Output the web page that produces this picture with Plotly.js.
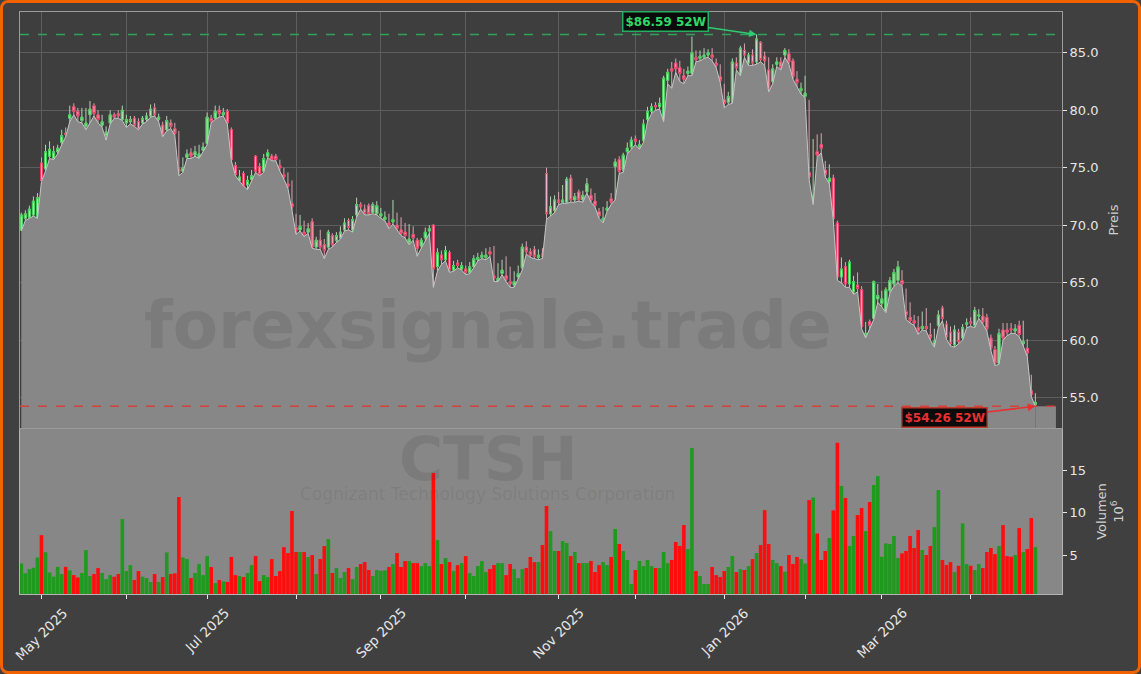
<!DOCTYPE html>
<html><head><meta charset="utf-8">
<script src="https://cdn.plot.ly/plotly-3.0.1.min.js"></script>
<style>
html,body{margin:0;padding:0;background:#404040;overflow:hidden;}
#chart{width:1141px;height:674px;}
#frame{position:fixed;left:0;top:0;width:1141px;height:674px;box-sizing:border-box;border:3px solid #f26200;border-radius:8px;pointer-events:none;}
</style></head><body>
<div id="chart"></div><div id="frame"></div>
<script>
// ---------- data ----------
const START_DATE = '2025-04-24';
const HOLIDAYS = ['2025-05-26','2025-06-19','2025-07-04','2025-09-01','2025-11-27','2025-12-25','2026-01-01','2026-01-19','2026-02-16','2026-04-03'];
const MONTHS = ['Jan','Feb','Mar','Apr','May','Jun','Jul','Aug','Sep','Oct','Nov','Dec'];

const open = [
69.6,70.6,70.7,70.9,70.6,75.4,74.9,76.0,75.8,76.4,
77.2,78.0,79.3,80.3,79.9,79.1,78.6,79.6,80.4,79.6,
78.7,77.8,78.9,79.6,79.7,79.2,78.9,79.0,79.3,79.0,
78.9,79.2,79.5,80.2,79.2,78.7,78.3,78.9,78.4,74.9,
74.7,75.9,76.3,76.1,75.9,76.5,77.1,79.3,79.3,80.0,
79.6,79.9,78.3,75.2,73.9,74.5,73.5,74.0,76.0,75.1,
74.7,76.0,76.0,76.0,75.2,74.4,73.6,71.9,69.8,69.6,
69.4,69.4,70.3,68.1,68.7,68.3,68.1,69.1,68.7,68.9,
69.6,70.4,69.6,70.9,71.8,71.4,71.7,71.1,71.0,70.8,
70.5,70.2,70.3,70.0,69.6,69.4,68.5,69.2,68.7,68.2,
68.9,69.5,70.0,66.4,67.4,67.0,67.6,66.1,66.7,66.2,
66.2,65.9,66.4,67.0,67.2,67.2,67.7,65.6,65.1,65.8,
65.6,65.1,64.8,65.5,66.3,68.1,67.7,67.9,67.2,67.5,
74.5,71.0,71.3,72.2,72.0,72.0,74.1,72.2,72.9,72.2,
72.9,72.6,72.1,71.2,70.4,71.3,72.3,75.1,75.7,74.8,
76.4,76.8,77.5,76.8,77.4,79.2,79.9,80.4,80.3,79.1,
82.6,83.6,84.1,83.7,83.0,83.2,83.2,84.6,84.5,84.6,
84.8,84.8,84.1,82.9,80.9,80.7,80.7,84.1,83.2,85.2,
84.1,84.8,84.2,85.9,84.7,83.5,82.5,84.0,84.2,84.8,
84.9,84.3,82.7,81.7,81.2,74.6,72.2,76.4,77.0,74.8,
73.8,74.1,70.2,65.5,66.4,64.9,64.2,64.8,64.4,60.4,
61.6,61.9,63.6,63.2,62.5,64.3,64.9,65.2,65.2,62.5,
62.0,61.7,61.1,61.0,61.2,60.5,59.6,61.3,62.8,61.4,
60.7,59.6,60.7,60.2,61.4,61.6,61.3,62.1,62.1,62.0,
60.2,59.2,58.0,60.9,60.9,61.0,60.8,61.3,59.7,59.3,
55.6,54.4];
const high = [
71.1,71.3,71.7,72.5,72.8,75.9,77.0,77.3,76.9,77.0,
78.3,78.5,80.4,80.6,80.2,80.2,80.2,80.8,80.6,80.0,
79.6,78.6,80.0,79.8,80.0,80.4,79.6,79.5,79.5,79.3,
79.5,79.8,80.5,80.6,79.7,79.0,79.5,79.2,78.9,78.2,
75.9,76.6,76.7,76.9,77.0,77.2,79.8,79.6,80.4,80.4,
80.2,80.1,78.5,75.5,74.8,74.7,74.3,74.8,76.1,75.4,
76.2,76.6,76.2,76.2,75.7,75.0,74.6,73.9,71.0,70.9,
70.4,70.2,70.6,69.0,69.6,68.8,69.6,69.3,69.4,69.9,
70.6,70.6,70.8,72.4,72.0,71.8,71.9,72.0,72.1,71.5,
71.2,71.0,72.2,71.1,70.7,70.2,70.1,69.9,68.9,68.9,
69.8,70.0,70.1,68.0,67.8,68.2,67.8,66.9,67.0,66.8,
66.5,66.8,67.4,67.6,67.7,68.0,68.1,68.2,66.7,67.0,
67.3,66.4,66.0,66.5,68.4,68.6,68.0,68.2,67.9,68.0,
75.0,72.5,72.6,72.9,73.5,74.2,74.4,72.8,73.1,73.0,
74.1,73.2,72.8,71.5,71.6,72.1,72.8,75.8,76.0,76.3,
77.2,77.7,77.8,77.4,79.2,80.3,80.6,80.7,81.1,83.0,
83.6,84.2,84.5,84.3,83.6,83.8,86.4,85.2,85.2,85.4,
85.3,85.4,84.5,84.0,82.3,81.6,84.5,84.6,85.6,85.8,
85.0,85.3,86.59,86.0,85.1,84.6,84.0,84.6,84.6,85.4,
85.3,84.5,83.4,82.4,83.0,80.9,77.5,77.9,78.0,75.6,
75.3,74.4,70.4,67.2,66.8,67.0,65.6,65.9,64.7,61.6,
61.8,65.2,64.9,64.3,64.6,65.5,66.2,66.9,66.1,64.5,
63.3,62.2,62.1,62.5,62.8,61.5,61.0,62.6,63.0,61.7,
61.2,61.3,61.0,61.4,61.9,62.0,62.9,62.7,62.8,62.3,
60.5,59.5,61.0,61.5,61.5,61.5,61.4,61.7,61.7,60.1,
57.0,55.4];
const low = [
69.5,70.4,70.6,70.8,70.6,73.8,74.7,75.8,75.7,76.2,
77.0,77.7,79.0,79.6,79.0,78.9,78.3,78.9,79.5,78.9,
78.5,77.4,78.8,79.3,79.3,79.1,78.5,78.8,78.6,78.3,
78.8,79.0,79.4,79.5,79.0,77.7,78.2,78.4,77.8,74.3,
74.6,75.8,75.8,76.0,75.8,76.4,77.0,78.9,79.2,79.4,
79.5,78.8,75.6,74.3,73.8,73.4,73.1,73.9,74.6,74.3,
74.6,75.9,75.6,75.6,74.7,74.0,73.2,71.3,69.2,69.5,
69.0,69.3,68.0,67.9,67.9,67.1,67.9,68.1,68.5,68.8,
69.5,69.6,69.4,70.7,71.4,70.9,70.9,71.0,70.9,70.6,
70.4,69.7,70.1,69.6,69.1,68.9,68.3,68.7,67.3,68.0,
68.7,69.3,64.6,66.0,66.6,66.9,65.9,66.0,66.3,66.1,
65.7,65.8,66.3,66.9,67.1,67.0,67.3,65.1,65.1,65.7,
65.1,64.6,64.6,65.3,66.1,67.5,67.2,67.1,67.0,67.1,
70.5,70.8,71.1,71.8,71.9,71.9,72.0,72.0,72.1,72.0,
72.8,72.0,71.6,70.6,70.2,71.2,71.8,72.2,74.5,74.6,
76.2,76.6,77.0,76.6,77.2,79.0,79.7,80.0,80.1,79.0,
82.3,81.9,83.3,82.5,82.3,83.0,83.0,84.2,84.3,84.5,
84.6,84.3,83.7,82.4,80.2,80.5,80.6,83.5,83.0,84.6,
83.9,83.9,84.0,84.2,83.9,81.6,82.3,83.8,83.5,84.6,
84.0,82.7,82.0,81.4,81.1,74.0,71.8,75.9,76.3,74.2,
73.6,70.4,65.2,65.0,64.6,64.6,64.0,64.2,61.0,60.2,
61.0,61.8,63.3,62.9,62.4,64.1,64.7,65.0,64.7,61.8,
61.5,61.3,60.5,60.9,60.8,60.0,59.4,61.1,61.7,60.1,
59.5,59.4,59.7,60.0,61.1,61.2,61.1,61.9,61.4,60.8,
59.1,57.8,57.9,60.0,60.4,60.6,60.6,60.3,59.5,58.6,
55.1,54.26];
const close = [
70.9,71.0,71.4,72.1,72.4,73.9,76.4,76.6,76.4,76.7,
77.8,77.9,79.6,79.9,79.5,79.4,78.9,80.1,79.7,79.2,
79.0,78.1,79.6,79.4,79.5,80.0,79.2,79.2,78.7,78.3,
79.3,79.5,80.1,79.6,79.4,77.9,79.1,78.6,78.0,74.6,
75.0,76.2,76.0,76.4,76.2,76.8,79.4,79.0,79.9,79.7,
79.8,78.9,75.7,74.4,74.2,73.4,73.9,74.3,74.7,74.4,
75.8,76.3,75.7,75.7,75.0,74.2,73.4,71.6,69.5,69.9,
69.2,69.7,68.1,68.7,68.1,67.8,69.4,68.3,69.1,69.4,
70.2,69.8,70.5,71.8,71.6,71.0,71.0,71.8,71.7,71.0,
70.7,70.0,70.5,69.7,69.3,69.1,68.8,68.9,68.0,68.7,
69.4,69.7,66.2,67.6,67.0,67.8,66.1,66.5,66.5,66.5,
65.9,66.4,67.1,67.2,67.4,67.4,67.5,65.4,65.4,66.1,
65.3,64.9,65.1,65.8,68.1,67.7,67.4,67.3,67.4,67.3,
71.0,71.6,72.2,72.0,72.2,74.0,72.2,72.5,72.2,72.6,
73.6,72.2,71.7,70.8,70.6,71.5,72.0,75.5,74.7,76.1,
76.7,77.4,77.3,77.0,78.8,79.9,80.3,80.3,80.6,82.8,
83.3,83.4,83.6,83.2,82.7,83.4,85.0,84.4,84.7,84.8,
85.0,84.6,83.9,82.6,80.6,81.2,84.2,83.7,85.4,84.8,
84.8,84.1,86.2,84.4,84.3,81.8,83.6,84.2,83.7,85.2,
84.2,82.9,82.4,81.9,81.5,74.2,72.6,76.1,76.7,74.4,
74.1,70.6,65.5,66.2,64.9,66.8,65.1,64.5,61.2,60.6,
61.3,65.1,63.9,63.6,64.4,65.2,65.9,66.4,64.9,62.2,
61.7,61.5,60.8,61.2,61.0,60.2,59.9,62.2,61.9,60.3,
59.7,60.9,59.9,61.1,61.5,61.5,62.6,62.2,61.6,61.0,
59.3,58.0,60.6,60.2,60.7,60.9,61.0,60.5,59.9,58.9,
55.3,54.6];
// volume in millions of shares
const volume = [
4.1,2.95,3.44,3.6,4.8,7.4,5.4,3.05,2.55,3.7,
2.86,3.7,3.3,2.74,2.47,2.98,5.66,2.63,2.86,3.56,
2.98,2.27,2.74,2.55,2.86,9.28,3.21,3.91,2.16,3.21,
2.55,2.39,1.93,2.86,1.93,2.51,5.39,2.86,2.94,11.85,
4.81,4.61,2.39,2.98,4.03,2.74,4.96,3.68,1.81,2.16,
2.0,1.93,4.85,2.74,2.63,2.51,2.98,3.91,4.96,2.04,
2.74,2.51,4.61,2.63,3.21,6.0,5.31,10.22,5.43,5.43,
5.43,4.85,5.08,2.86,4.61,6.13,6.95,2.98,3.56,2.39,
3.09,3.56,2.27,3.68,4.03,4.26,3.33,2.63,3.33,3.25,
3.3,3.68,4.03,5.31,3.68,4.38,4.38,4.14,4.14,3.79,
4.14,3.79,14.66,6.83,4.03,4.73,4.26,3.21,3.91,4.14,
4.96,2.98,2.63,3.79,4.38,3.09,3.44,3.91,4.14,4.14,
2.74,4.03,3.44,2.39,3.44,3.56,4.85,4.26,4.26,6.25,
10.8,7.88,5.55,5.55,6.72,6.48,4.96,5.43,4.14,4.14,
4.14,4.38,3.09,3.91,4.26,3.91,4.85,8.12,6.37,5.55,
4.5,1.69,3.33,4.38,3.79,4.5,3.79,3.56,3.56,5.43,
4.14,4.5,6.6,6.13,8.58,5.78,17.58,3.21,2.63,1.69,
1.69,3.68,2.74,2.51,3.21,3.68,4.96,3.09,3.44,3.33,
3.79,4.61,5.31,6.25,10.33,6.37,4.5,4.14,3.79,3.13,
5.08,4.03,4.85,4.61,4.1,11.5,11.8,7.6,4.5,5.55,
7.07,10.3,18.2,13.14,11.74,6.13,7.3,9.75,10.57,7.88,
11.27,13.26,14.3,4.88,6.44,6.37,7.3,4.73,5.27,5.55,
7.3,5.9,8.0,5.66,5.08,6.13,8.35,12.67,4.5,3.91,
4.26,3.09,3.83,8.78,4.03,3.83,3.33,4.03,3.56,5.43,
5.9,5.19,6.13,8.58,4.96,4.88,5.08,8.23,5.43,5.78,
9.4,6.0];
const HIGH_52W = 86.59, LOW_52W = 54.26;
const TICKER = 'CTSH', COMPANY = 'Cognizant Technology Solutions Corporation', WATERMARK = 'forexsignale.trade';

// ---------- derived ----------
function tradingDays(start, n){
  const out=[]; const d=new Date(start+'T00:00:00Z');
  while(out.length<n){
    const dow=d.getUTCDay(); const s=d.toISOString().slice(0,10);
    if(dow!==0 && dow!==6 && !HOLIDAYS.includes(s)) out.push(s);
    d.setUTCDate(d.getUTCDate()+1);
  }
  return out;
}
const N = close.length;
const dates = tradingDays(START_DATE, N);
const idx = dates.map((_,i)=>i);
const tickvals=[], ticklabels=[];
for(let i=1;i<N;i++){
  if(dates[i].slice(5,7)!==dates[i-1].slice(5,7)){
    const m=+dates[i].slice(5,7);
    tickvals.push(i);
    ticklabels.push(m%2===1 ? MONTHS[m-1]+' '+dates[i].slice(0,4) : '');
  }
}
const X_RANGE = [-0.32, 257.6];
const bodyHigh = open.map((o,i)=>Math.max(o,close[i]));
const bodyLow = open.map((o,i)=>Math.min(o,close[i]));
const volColors = open.map((o,i)=> close[i]>=o ? '#1f9a1f' : '#ff0d0d');
const iHigh = high.indexOf(Math.max(...high));
const iLow = low.indexOf(Math.min(...low));

const traces = [
  {type:'scatter', x:idx, y:low, xaxis:'x2', yaxis:'y2', mode:'lines', fill:'tozeroy',
   fillcolor:'#878787', line:{color:'#c6c6c6', width:1}, hoverinfo:'skip'},
  {type:'candlestick', x:idx, open:open, high:high, low:low, close:close, xaxis:'x2', yaxis:'y2',
   increasing:{line:{color:'#b3d3b3', width:1}, fillcolor:'#b3d3b3'},
   decreasing:{line:{color:'#d9a5b3', width:1}, fillcolor:'#d9a5b3'}, whiskerwidth:0},
  {type:'candlestick', x:idx, open:open, high:bodyHigh, low:bodyLow, close:close, xaxis:'x2', yaxis:'y2',
   increasing:{line:{color:'#3fcf55', width:1}, fillcolor:'#cfdccf'},
   decreasing:{line:{color:'#f03a62', width:1}, fillcolor:'#f2b3c2'}, whiskerwidth:0},
  {type:'bar', x:idx, y:volume, xaxis:'x', yaxis:'y', marker:{color:volColors, line:{width:0}}, width:0.9}
];

const wm = 'rgba(40,40,40,0.12)';
const annotations = [
  {xref:'paper', yref:'paper', x:0.449, y:0.462, xanchor:'center', yanchor:'middle', text:'<b>'+WATERMARK+'</b>', showarrow:false, font:{size:66, color:wm}},
  {xref:'paper', yref:'paper', x:0.449, y:0.232, xanchor:'center', yanchor:'middle', text:'<b>'+TICKER+'</b>', showarrow:false, font:{size:60, color:wm}},
  {xref:'paper', yref:'paper', x:0.449, y:0.172, xanchor:'center', yanchor:'middle', text:COMPANY, showarrow:false, font:{size:17, color:'rgba(40,40,40,0.10)'}},
  {xref:'x2', yref:'y2', x:iHigh, y:HIGH_52W, text:'<b>$'+HIGH_52W.toFixed(2)+' 52W</b>', showarrow:true,
   arrowhead:2, arrowsize:1, arrowwidth:1.5, arrowcolor:'#2ecc71', ax:-91, ay:-13,
   font:{size:12, color:'#2fd866'}, bgcolor:'#0b0b0b', bordercolor:'#27ae60', borderwidth:1.5, borderpad:2},
  {xref:'x2', yref:'y2', x:iLow, y:LOW_52W, text:'<b>$'+LOW_52W.toFixed(2)+' 52W</b>', showarrow:true,
   arrowhead:2, arrowsize:1, arrowwidth:1.5, arrowcolor:'#e8302f', ax:-91, ay:11,
   font:{size:12, color:'#e8302f'}, bgcolor:'#0b0b0b', bordercolor:'#c0392b', borderwidth:1.5, borderpad:2}
];
tickvals.forEach((v,k)=>{
  if(ticklabels[k]) annotations.push({xref:'x', yref:'paper', x:v, y:0, xanchor:'center', yanchor:'top', yshift:-8,
    textangle:-45, text:ticklabels[k], showarrow:false, font:{size:13.5, color:'#e6e6e6'}});
});

const layout = {
  width:1141, height:674,
  paper_bgcolor:'#404040', plot_bgcolor:'#3e3e3e',
  margin:{l:20, r:79, t:12, b:80},
  showlegend:false,
  font:{family:'DejaVu Sans, sans-serif', color:'#e0e0e0', size:13},
  xaxis:{domain:[0,1], anchor:'y', range:X_RANGE, tickmode:'array', tickvals:tickvals, ticktext:tickvals.map(()=>' '),
         ticks:'outside', ticklen:4, tickcolor:'#e8e8e8', showgrid:false, showline:true, mirror:true,
         linecolor:'#b4b4b4', zeroline:false, rangeslider:{visible:false}},
  xaxis2:{anchor:'y2', matches:'x', showticklabels:false, ticks:'', tickmode:'array', tickvals:tickvals,
          showgrid:true, gridcolor:'#5d5d5d', gridwidth:1, showline:true, mirror:true, linecolor:'#9c9c9c',
          zeroline:false, rangeslider:{visible:false}},
  yaxis:{domain:[0,0.2835], side:'right', anchor:'x', range:[0.53,19.8], tickmode:'array', tickvals:[5,10,15],
         ticks:'outside', ticklen:4, tickcolor:'#e8e8e8', showgrid:false, showline:true, mirror:true, linecolor:'#b4b4b4',
         zeroline:false, tickfont:{size:13, color:'#e6e6e6'},
         title:{text:'Volumen<br>10<sup>6</sup>', font:{size:13, color:'#d0d0d0'}, standoff:11}},
  yaxis2:{domain:[0.2852,1], side:'right', anchor:'x2', range:[52.37,88.54], tickmode:'array',
          tickvals:[55,60,65,70,75,80,85], tickformat:'.1f', ticks:'outside', ticklen:4, tickcolor:'#e8e8e8',
          showgrid:true, gridcolor:'#5d5d5d', showline:true, mirror:true, linecolor:'#9c9c9c', zeroline:false,
          tickfont:{size:13, color:'#e6e6e6'},
          title:{text:'Preis', font:{size:13, color:'#d0d0d0'}, standoff:11}},
  shapes:[
    {type:'rect', xref:'x domain', yref:'y domain', x0:0, x1:1, y0:0, y1:1, fillcolor:'#878787', line:{width:0}, layer:'below'},
    // flat continuation of the low-area past the last session, as in the source chart
    {type:'rect', xref:'x2', yref:'y2', x0:N-1, x1:X_RANGE[1]-1.5, y0:52.37, y1:low[N-1], fillcolor:'#878787', line:{width:0}, layer:'below'},
    {type:'line', xref:'x2 domain', yref:'y2', x0:0, x1:1, y0:HIGH_52W, y1:HIGH_52W, line:{color:'#2fa35a', width:1.5, dash:'dash'}},
    {type:'line', xref:'x2 domain', yref:'y2', x0:0, x1:1, y0:LOW_52W, y1:LOW_52W, line:{color:'#d8403a', width:1.5, dash:'dash'}}
  ],
  annotations:annotations
};
Plotly.newPlot('chart', traces, layout, {displayModeBar:false, staticPlot:true});
</script></body></html>
